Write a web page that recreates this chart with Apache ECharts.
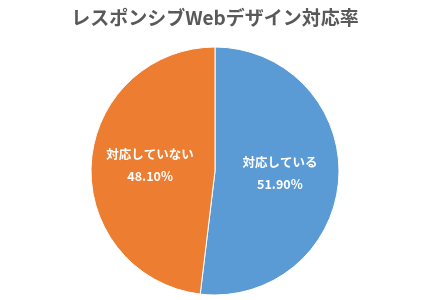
<!DOCTYPE html>
<html><head><meta charset="utf-8">
<script src="https://cdn.jsdelivr.net/npm/echarts@6/dist/echarts.min.js"></script>
<style>html,body{margin:0;padding:0;background:#fff}#c{width:430px;height:300px}</style>
</head><body><div id="c"></div>
<script>
var titleText = 'レスポンシブWebデザイン対応率';
var categories = ['対応している', '対応していない'];
var values = [51.9, 48.1];
var colors = ['#5B9BD5', '#ED7D31'];

var chart = echarts.init(document.getElementById('c'), null, {renderer: 'canvas'});
chart.setOption({
  animation: false,
  backgroundColor: '#fff',
  title: {
    text: titleText, left: 'center', top: 3,
    textStyle: {fontFamily: 'Noto Sans CJK JP', fontSize: 19, fontWeight: 'bold', color: '#595959'}
  },
  series: [{
    type: 'pie',
    center: [215, 171],
    radius: 124,
    startAngle: 90,
    clockwise: true,
    itemStyle: {borderColor: '#fff', borderWidth: 1},
    label: {
      show: true, position: 'inside',
      color: '#fff', fontFamily: 'Noto Sans CJK JP', fontSize: 12.5, fontWeight: 'bold',
      lineHeight: 22, offset: [0, -2],
      formatter: function (p) { return p.name + '\n' + p.value.toFixed(2) + '%'; }
    },
    labelLine: {show: false},
    data: categories.map(function (c, i) {
      return {name: c, value: values[i], itemStyle: {color: colors[i]}};
    })
  }]
});
</script></body></html>
